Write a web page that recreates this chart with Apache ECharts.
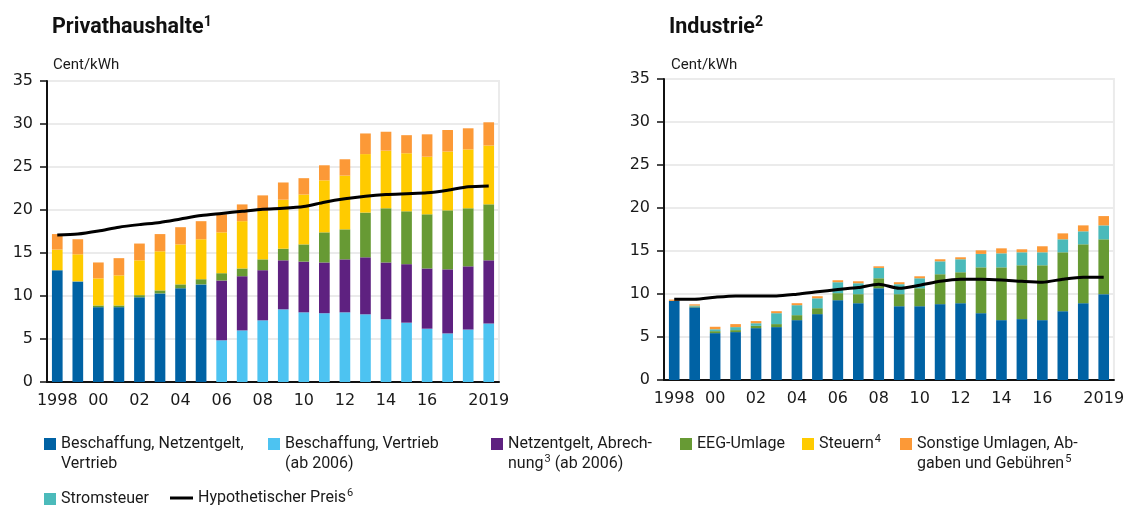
<!DOCTYPE html>
<html>
<head>
<meta charset="utf-8">
<script src="https://cdn.jsdelivr.net/npm/echarts@6/dist/echarts.min.js"></script>
<style>
  html, body { margin: 0; padding: 0; background: #fff; }
  #main { width: 1127px; height: 506px; }
</style>
</head>
<body>
<div id="main"></div>
<script>
// Strompreise 1998-2019, Cent/kWh
const years = ['1998','1999','2000','2001','2002','2003','2004','2005','2006','2007','2008',
    '2009','2010','2011','2012','2013','2014','2015','2016','2017','2018','2019'];
const tickLabels = ['1998','','00','','02','','04','','06','','08','','10','','12','','14','','16','','','2019'];

// Privathaushalte
const hhBeschaffungAlt = [13.0, 11.7, 8.7, 8.7, 9.85, 10.3, 10.9, 11.35, null, null, null,
    null, null, null, null, null, null, null, null, null, null, null];
const hhBeschaffung = [null, null, null, null, null, null, null, null, 4.85, 6.0, 7.17,
    8.45, 8.1, 8.0, 8.1, 7.87, 7.3, 6.9, 6.2, 5.65, 6.1, 6.8];
const hhNetz = [null, null, null, null, null, null, null, null, 6.95, 6.3, 5.83,
    5.7, 5.9, 5.9, 6.16, 6.63, 6.6, 6.8, 7.0, 7.45, 7.35, 7.35];
const hhEeg = [0, 0, 0.2, 0.2, 0.25, 0.35, 0.45, 0.6, 0.85, 0.9, 1.26,
    1.35, 2.0, 3.5, 3.49, 5.2, 6.3, 6.15, 6.3, 6.86, 6.75, 6.51];
const hhSteuern = [2.4, 3.15, 3.15, 3.5, 4.05, 4.55, 4.65, 4.65, 4.75, 5.5, 5.64,
    5.7, 5.8, 6.05, 6.25, 6.8, 6.7, 6.75, 6.7, 6.84, 6.85, 6.84];
const hhSonstige = [1.8, 1.75, 1.85, 2.0, 1.95, 2.0, 2.0, 2.1, 2.1, 1.95, 1.8,
    2.0, 1.9, 1.75, 1.9, 2.4, 2.2, 2.1, 2.6, 2.5, 2.45, 2.7];
const hhHypo = [17.1, 17.2, 17.55, 18.0, 18.3, 18.55, 18.95, 19.35, 19.6, 19.85, 20.1,
    20.2, 20.4, 20.9, 21.3, 21.6, 21.8, 21.9, 22.0, 22.3, 22.7, 22.8];

// Industrie
const inBeschaffung = [9.2, 8.45, 5.45, 5.57, 6.03, 6.15, 6.96, 7.66, 9.28, 8.93, 10.67,
    8.58, 8.58, 8.82, 8.93, 7.77, 6.96, 7.08, 6.96, 8.0, 8.93, 9.98];
const inEeg = [0, 0.1, 0.23, 0.23, 0.27, 0.35, 0.58, 0.69, 0.82, 1.05, 1.16,
    1.4, 2.09, 3.48, 3.6, 5.33, 6.14, 6.26, 6.38, 6.85, 6.85, 6.38];
const inStromsteuer = [0, 0.1, 0.22, 0.35, 0.3, 1.27, 1.16, 1.15, 1.27, 1.27, 1.2,
    1.16, 1.16, 1.5, 1.51, 1.56, 1.63, 1.51, 1.51, 1.51, 1.51, 1.62];
const inSonstige = [0.15, 0.15, 0.29, 0.35, 0.25, 0.23, 0.23, 0.24, 0.23, 0.23, 0.19,
    0.23, 0.23, 0.24, 0.23, 0.42, 0.58, 0.35, 0.7, 0.69, 0.69, 1.08];
const inHypo = [9.4, 9.4, 9.63, 9.78, 9.78, 9.78, 9.98, 10.25, 10.52, 10.75, 11.14,
    10.67, 11.02, 11.48, 11.72, 11.72, 11.64, 11.48, 11.37, 11.72, 11.95, 11.95];

// leading '\n' pushes the two-line labels down so the first line sits next to the icon
const legendText = {
    'Beschaffung, Netzentgelt, Vertrieb': '\nBeschaffung, Netzentgelt,\nVertrieb',
    'Beschaffung, Vertrieb (ab 2006)': '\nBeschaffung, Vertrieb\n(ab 2006)',
    'Netzentgelt, Abrechnung (ab 2006)': '\nNetzentgelt, Abrech-\nnung{sup|3} (ab 2006)',
    'EEG-Umlage': 'EEG-Umlage',
    'Steuern': 'Steuern{sup|4}',
    'Sonstige Umlagen, Abgaben und Gebühren': '\nSonstige Umlagen, Ab-\ngaben und Gebühren{sup|5}',
    'Stromsteuer': 'Stromsteuer',
    'Hypothetischer Preis': 'Hypothetischer Preis{sup|6}'
};

const colors = {
    dunkelblau: '#0062a4',
    hellblau: '#4dc3f1',
    lila: '#5e2180',
    gruen: '#679a34',
    gelb: '#ffcb00',
    orange: '#fc9937',
    tuerkis: '#4bbaba'
};

const textFont = 'Roboto';
const numFont = 'DejaVu Sans';

function makeLegend(name, left, top) {
    return {
        data: [name],
        left: left,
        top: top,
        padding: 0,
        itemWidth: 12,
        itemHeight: 12,
        icon: 'rect',
        selectedMode: false,
        formatter: function (n) { return legendText[n]; },
        textStyle: {
            fontFamily: textFont,
            fontSize: 16,
            color: '#1a1a1a',
            lineHeight: 20,
            rich: {
                sup: { fontFamily: textFont, fontSize: 11, color: '#1a1a1a', verticalAlign: 'top', lineHeight: 20, padding: [0, 0, 6, 1] }
            }
        }
    };
}

function xAxisFor(gridIndex) {
    return {
        type: 'category',
        gridIndex: gridIndex,
        data: years,
        boundaryGap: true,
        axisLine: { lineStyle: { color: '#111', width: 2 } },
        axisTick: { interval: 0, length: 6, lineStyle: { color: '#111', width: 1.5 } },
        axisLabel: {
            interval: 0,
            margin: 11,
            fontFamily: numFont,
            fontSize: 16,
            color: '#1a1a1a',
            formatter: function (value, idx) { return tickLabels[idx]; }
        }
    };
}

function yAxisFor(gridIndex) {
    return {
        type: 'value',
        gridIndex: gridIndex,
        min: 0,
        max: 35,
        interval: 5,
        axisLine: { show: true, lineStyle: { color: '#111', width: 2 } },
        axisTick: { show: true, length: 7, lineStyle: { color: '#111', width: 1.5 } },
        axisLabel: { margin: 14, fontFamily: numFont, fontSize: 16, color: '#1a1a1a' },
        splitLine: { lineStyle: { color: '#ebebeb', width: 2 } }
    };
}

function bar(name, data, color, idx, stack) {
    return {
        name: name, type: 'bar', stack: stack, data: data,
        xAxisIndex: idx, yAxisIndex: idx,
        barWidth: '52%',
        itemStyle: { color: color },
        emphasis: { disabled: true }
    };
}

function hypoLine(data, idx) {
    return {
        name: 'Hypothetischer Preis', type: 'line', data: data,
        xAxisIndex: idx, yAxisIndex: idx,
        smooth: 0.25, symbol: 'none', z: 5,
        itemStyle: { color: '#000' },
        lineStyle: { color: '#000', width: 3 }
    };
}

const titleStyle = {
    fontFamily: textFont, fontSize: 21.5, fontWeight: 'bold', color: '#111', lineHeight: 26,
    rich: {
        sup: { fontFamily: textFont, fontSize: 14, fontWeight: 'bold', color: '#111', verticalAlign: 'top', lineHeight: 26 }
    }
};
const unitStyle = { fontFamily: textFont, fontSize: 15, fontWeight: 'normal', color: '#1a1a1a' };

let myChart = echarts.init(document.getElementById('main'));

let option = {
    animation: false,
    backgroundColor: '#fff',
    title: [
        { text: 'Privathaushalte{sup|1}', left: 47, top: 10, textStyle: titleStyle },
        { text: 'Cent/kWh', left: 48, top: 53, textStyle: unitStyle },
        { text: 'Industrie{sup|2}', left: 664, top: 10, textStyle: titleStyle },
        { text: 'Cent/kWh', left: 666, top: 53, textStyle: unitStyle }
    ],
    legend: [
        makeLegend('Beschaffung, Netzentgelt, Vertrieb', 44, 414),
        makeLegend('Beschaffung, Vertrieb (ab 2006)', 268, 414),
        makeLegend('Netzentgelt, Abrechnung (ab 2006)', 491, 414),
        makeLegend('EEG-Umlage', 680, 434),
        makeLegend('Steuern', 802, 434),
        makeLegend('Sonstige Umlagen, Abgaben und Gebühren', 900, 414),
        makeLegend('Stromsteuer', 44, 489),
        Object.assign(makeLegend('Hypothetischer Preis', 170, 488), { itemWidth: 23, itemHeight: 3 })
    ],
    grid: [
        { left: 47, top: 81, width: 452, height: 301, show: true,
          borderColor: '#ebebeb', borderWidth: 2, backgroundColor: 'transparent' },
        { left: 664, top: 79, width: 453, height: 301, show: true,
          borderColor: '#ebebeb', borderWidth: 2, backgroundColor: 'transparent' }
    ],
    xAxis: [xAxisFor(0), xAxisFor(1)],
    yAxis: [yAxisFor(0), yAxisFor(1)],
    series: [
        bar('Beschaffung, Netzentgelt, Vertrieb', hhBeschaffungAlt, colors.dunkelblau, 0, 'hh'),
        bar('Beschaffung, Vertrieb (ab 2006)', hhBeschaffung, colors.hellblau, 0, 'hh'),
        bar('Netzentgelt, Abrechnung (ab 2006)', hhNetz, colors.lila, 0, 'hh'),
        bar('EEG-Umlage', hhEeg, colors.gruen, 0, 'hh'),
        bar('Steuern', hhSteuern, colors.gelb, 0, 'hh'),
        bar('Sonstige Umlagen, Abgaben und Gebühren', hhSonstige, colors.orange, 0, 'hh'),
        hypoLine(hhHypo, 0),

        bar('Beschaffung, Netzentgelt, Vertrieb', inBeschaffung, colors.dunkelblau, 1, 'in'),
        bar('EEG-Umlage', inEeg, colors.gruen, 1, 'in'),
        bar('Stromsteuer', inStromsteuer, colors.tuerkis, 1, 'in'),
        bar('Sonstige Umlagen, Abgaben und Gebühren', inSonstige, colors.orange, 1, 'in'),
        hypoLine(inHypo, 1)
    ]
};

myChart.setOption(option);
</script>
</body>
</html>
